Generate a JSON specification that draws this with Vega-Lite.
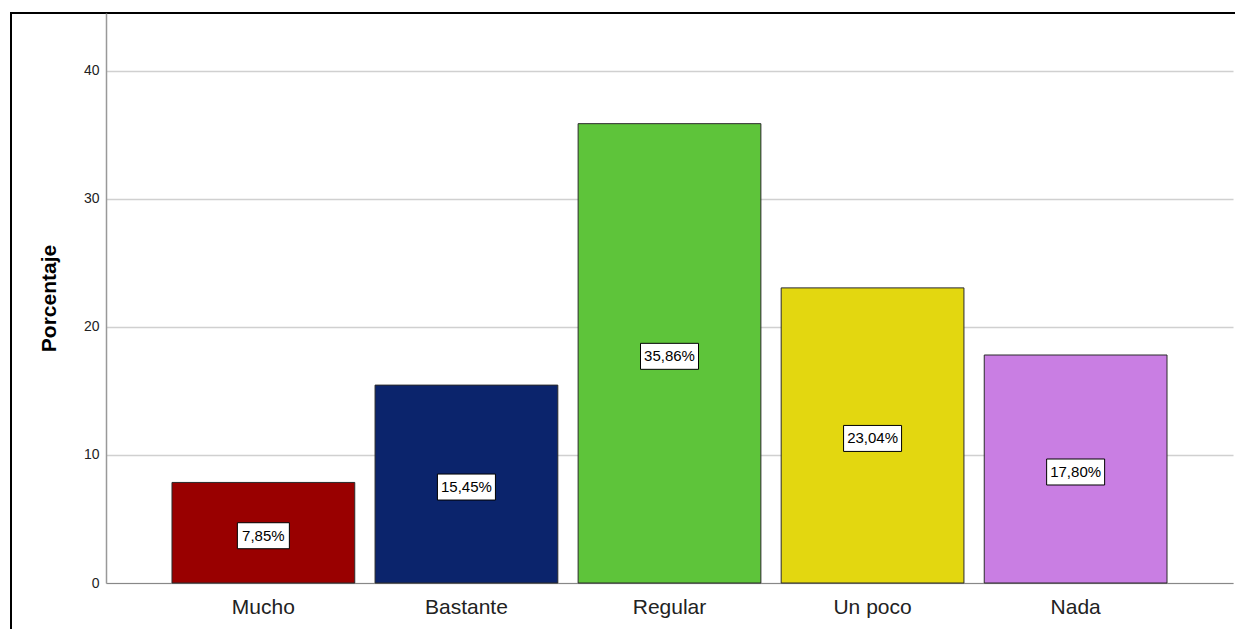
{
  "$schema": "https://vega.github.io/schema/vega-lite/v6.json",
  "width": 1236,
  "height": 630,
  "autosize": {"type": "none"},
  "padding": {"left": 11, "top": 13, "right": -12, "bottom": -14},
  "background": "white",
  "config": {
    "view": {"stroke": "black", "strokeWidth": 2},
    "font": "Liberation Sans"
  },
  "data": {
    "values": [
      {"categoria": "Mucho", "pct": 7.85},
      {"categoria": "Bastante", "pct": 15.45},
      {"categoria": "Regular", "pct": 35.86},
      {"categoria": "Un poco", "pct": 23.04},
      {"categoria": "Nada", "pct": 17.80}
    ]
  },
  "transform": [
    {"calculate": "datum.pct / 2", "as": "mid"},
    {"calculate": "replace(format(datum.pct, '.2f'), '.', ',') + '%'", "as": "label"}
  ],
  "encoding": {
    "x": {
      "field": "categoria",
      "type": "nominal",
      "sort": null,
      "scale": {"range": [95, 1222], "paddingInner": 0.1, "paddingOuter": 0.325},
      "axis": {
        "title": null,
        "orient": "bottom",
        "offset": -60,
        "labelAngle": 0,
        "ticks": false,
        "labelPadding": 13,
        "labelFontSize": 21,
        "labelColor": "#222222",
        "domainColor": "#888888",
        "domainWidth": 1,
        "grid": false
      }
    }
  },
  "layer": [
    {
      "mark": {"type": "bar", "stroke": "#2a2a2a", "strokeWidth": 1},
      "encoding": {
        "y": {
          "field": "pct",
          "type": "quantitative",
          "title": "Porcentaje",
          "scale": {"domain": [0, 44.5], "range": [570, 0], "nice": false, "zero": true},
          "axis": {
            "title": "Porcentaje",
            "offset": -95,
            "values": [0, 10, 20, 30, 40],
            "ticks": false,
            "labelPadding": 7,
            "labelFontSize": 14,
            "labelColor": "#222222",
            "domainColor": "#999999",
            "domainWidth": 1.5,
            "grid": true,
            "gridColor": "#d0d0d0",
            "gridWidth": 1.5,
            "titleFontSize": 21,
            "titleFontWeight": "bold",
            "titleColor": "black",
            "titlePadding": 24
          }
        },
        "color": {
          "field": "categoria",
          "type": "nominal",
          "scale": {
            "domain": ["Mucho", "Bastante", "Regular", "Un poco", "Nada"],
            "range": ["#990000", "#0b246c", "#5ec43a", "#e3d710", "#c97ee3"]
          },
          "legend": null
        }
      }
    },
    {
      "mark": {"type": "point", "filled": true, "fill": "white", "stroke": "black", "strokeWidth": 1, "opacity": 1},
      "encoding": {
        "y": {"field": "mid", "type": "quantitative", "title": "Porcentaje"},
        "yOffset": {"value": 3},
        "shape": {
          "condition": {"test": "datum.pct < 10", "value": "M-1,-0.5H1V0.5H-1Z"},
          "value": "M-1,-0.448H1V0.448H-1Z"
        },
        "size": {
          "condition": {"test": "datum.pct < 10", "value": 2704},
          "value": 3364
        }
      }
    },
    {
      "mark": {"type": "text", "fontSize": 15, "color": "black", "baseline": "middle", "align": "center"},
      "encoding": {
        "y": {"field": "mid", "type": "quantitative", "title": "Porcentaje"},
        "yOffset": {"value": 3},
        "text": {"field": "label"}
      }
    }
  ]
}
